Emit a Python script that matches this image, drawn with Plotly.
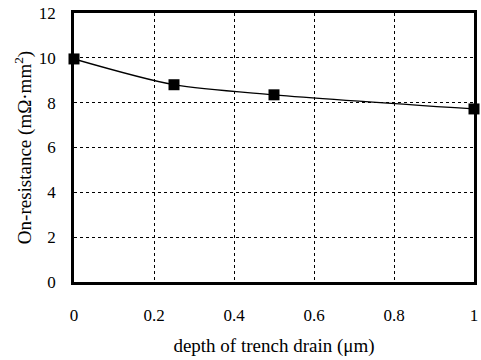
import plotly.graph_objects as go

depth = [0, 0.25, 0.5, 1.0]
resistance = [9.95, 8.8, 8.35, 7.72]
x_ticks = [0, 0.2, 0.4, 0.6, 0.8, 1]
x_labels = ["0", "0.2", "0.4", "0.6", "0.8", "1"]
y_ticks = [0, 2, 4, 6, 8, 10, 12]

font = "Liberation Serif, Times New Roman, serif"

fig = go.Figure()
fig.add_trace(go.Scatter(
    x=depth, y=resistance, mode="lines+markers",
    line=dict(color="black", width=1.3, shape="spline", smoothing=0.8),
    marker=dict(symbol="square", size=11, color="black"),
    cliponaxis=False,
))

fig.update_layout(
    width=481, height=360,
    margin=dict(l=74, r=4, t=12, b=78),
    paper_bgcolor="white", plot_bgcolor="white",
    showlegend=False,
    font=dict(family=font, size=17, color="black"),
    xaxis=dict(
        range=[0, 1], tickvals=x_ticks, ticktext=x_labels,
        showgrid=True, gridcolor="black", gridwidth=1, griddash="3px,3px",
        showline=True, linecolor="black", linewidth=2.5, mirror=True,
        ticks="", ticklabelstandoff=16, zeroline=False,
        title=dict(text="depth of trench drain (μm)", font=dict(size=19), standoff=15),
    ),
    yaxis=dict(
        range=[0, 12], tickvals=y_ticks,
        showgrid=True, gridcolor="black", gridwidth=1, griddash="3px,3px",
        showline=True, linecolor="black", linewidth=2.5, mirror=True,
        ticks="", ticklabelstandoff=12, zeroline=False,
        title=dict(text="On-resistance (mΩ·mm<sup>2</sup>)", font=dict(size=19), standoff=3),
    ),
)

fig.write_html("out.html")
